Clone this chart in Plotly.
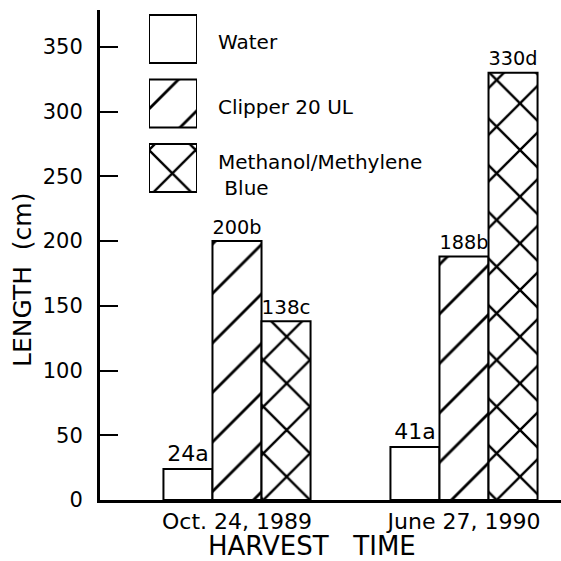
import plotly.graph_objects as go

# ---- data ----
categories = ["Oct. 24, 1989", "June 27, 1990"]
series_names = ["Water", "Clipper 20 UL", "Methanol/Methylene Blue"]
legend_labels = ["Water", "Clipper 20 UL", "Methanol/Methylene<br>\u00a0Blue"]
water = [24, 41]
clipper = [200, 188]
methanol = [138, 330]
water_letters = ["a", "a"]
clipper_letters = ["b", "b"]
methanol_letters = ["c", "d"]
y_ticks = [0, 50, 100, 150, 200, 250, 300, 350]

FONT = "DejaVu Sans"
W = H = 561
L, R, T, B = 100, 0, 10, 61
plot_w = W - L - R
plot_h = H - T - B

x_pos = list(range(len(categories)))
patterns = ["", "/", "x"]
pat_size = {"": 35, "/": 35, "x": 33}
pat_solid = {"": 0.06, "/": 0.08, "x": 0.14}
values = [water, clipper, methanol]
letters = [water_letters, clipper_letters, methanol_letters]

fig = go.Figure()
for name, vals, lets, pat in zip(series_names, values, letters, patterns):
    fig.add_trace(go.Bar(
        x=x_pos, y=vals, name=name,
        text=[f"{v}{l}" for v, l in zip(vals, lets)],
        textposition="outside",
        textfont=dict(family=FONT, size=22, color="black"),
        cliponaxis=False,
        marker=dict(
            color="white",
            line=dict(color="black", width=2),
            pattern=dict(shape=pat, size=pat_size[pat],
                         solidity=pat_solid[pat], fgcolor="black", bgcolor="white",
                         fgopacity=1),
        ),
        showlegend=False,
    ))

# custom legend drawn as a small bar chart
fig.add_trace(go.Bar(
    x=[1] * len(series_names), y=list(range(len(series_names))),
    orientation="h", xaxis="x2", yaxis="y2", width=0.744,
    cliponaxis=False,
    marker=dict(
        color="white",
        line=dict(color="black", width=2),
        pattern=dict(shape=patterns, size=[pat_size[p] for p in patterns],
                     solidity=[pat_solid[p] for p in patterns],
                     fgcolor="black", bgcolor="white", fgopacity=1),
    ),
    showlegend=False, hoverinfo="skip",
))

# x range from pixel geometry (group centres at 237 and 464 px)
unit = 227.0
x0 = -(237 - L) / unit
x1 = 1 + (W - 464) / unit
y_top = plot_h / 1.295

def px_to_paper_x(px):
    return (px - L) / plot_w

def px_to_paper_y(py):
    return (H - B - py) / plot_h

leg_top_px, leg_bot_px = 10, 200
row0_px, row_step = 39, 64.5

fig.update_layout(
    width=W, height=H,
    margin=dict(l=L, r=R, t=T, b=B, pad=0),
    paper_bgcolor="white", plot_bgcolor="white",
    barmode="group", bargap=0.352, bargroupgap=0,
    font=dict(family=FONT, color="black"),
    xaxis=dict(
        range=[x0, x1], tickvals=x_pos, ticktext=categories,
        showgrid=False, zeroline=False,
        showline=True, linecolor="black", linewidth=3,
        ticks="", tickfont=dict(family=FONT, size=22, color="black"),
    ),
    yaxis=dict(
        range=[0, y_top], tickvals=y_ticks,
        ticktext=[str(v) for v in y_ticks],
        showgrid=False, zeroline=False,
        showline=True, linecolor="black", linewidth=3,
        ticks="inside", ticklen=18, tickwidth=2, tickcolor="black",
        tickfont=dict(family=FONT, size=21, color="black"),
        ticklabelstandoff=10,
    ),
    xaxis2=dict(
        domain=[px_to_paper_x(149), px_to_paper_x(197)],
        anchor="y2", range=[0, 1], visible=False,
    ),
    yaxis2=dict(
        domain=[px_to_paper_y(leg_bot_px), px_to_paper_y(leg_top_px)],
        anchor="x2",
        range=[(leg_bot_px - row0_px) / row_step, (leg_top_px - row0_px) / row_step],
        visible=False,
    ),
)

annotations = []
shifts = [-3, -3, -7]
for i, lab in enumerate(legend_labels):
    annotations.append(dict(
        text=lab, xref="paper", yref="y2", x=px_to_paper_x(216), y=i,
        xanchor="left", yanchor="middle", align="left", showarrow=False,
        yshift=shifts[i],
        font=dict(family=FONT, size=20, color="black"),
    ))
annotations.append(dict(
    text="LENGTH\u00a0 (cm)", xref="paper", yref="paper",
    x=px_to_paper_x(22), y=px_to_paper_y(280), textangle=-90,
    xanchor="center", yanchor="middle", showarrow=False,
    font=dict(family=FONT, size=25, color="black"),
))
annotations.append(dict(
    text="HARVEST\u00a0\u00a0 TIME", xref="paper", yref="paper",
    x=px_to_paper_x(312), y=px_to_paper_y(546),
    xanchor="center", yanchor="middle", showarrow=False,
    font=dict(family=FONT, size=26, color="black"),
))
fig.update_layout(annotations=annotations)

fig.write_html(
    "out.html",
    config={"displayModeBar": False},
    post_script="document.body.style.margin='0';document.body.style.padding='0';",
)
